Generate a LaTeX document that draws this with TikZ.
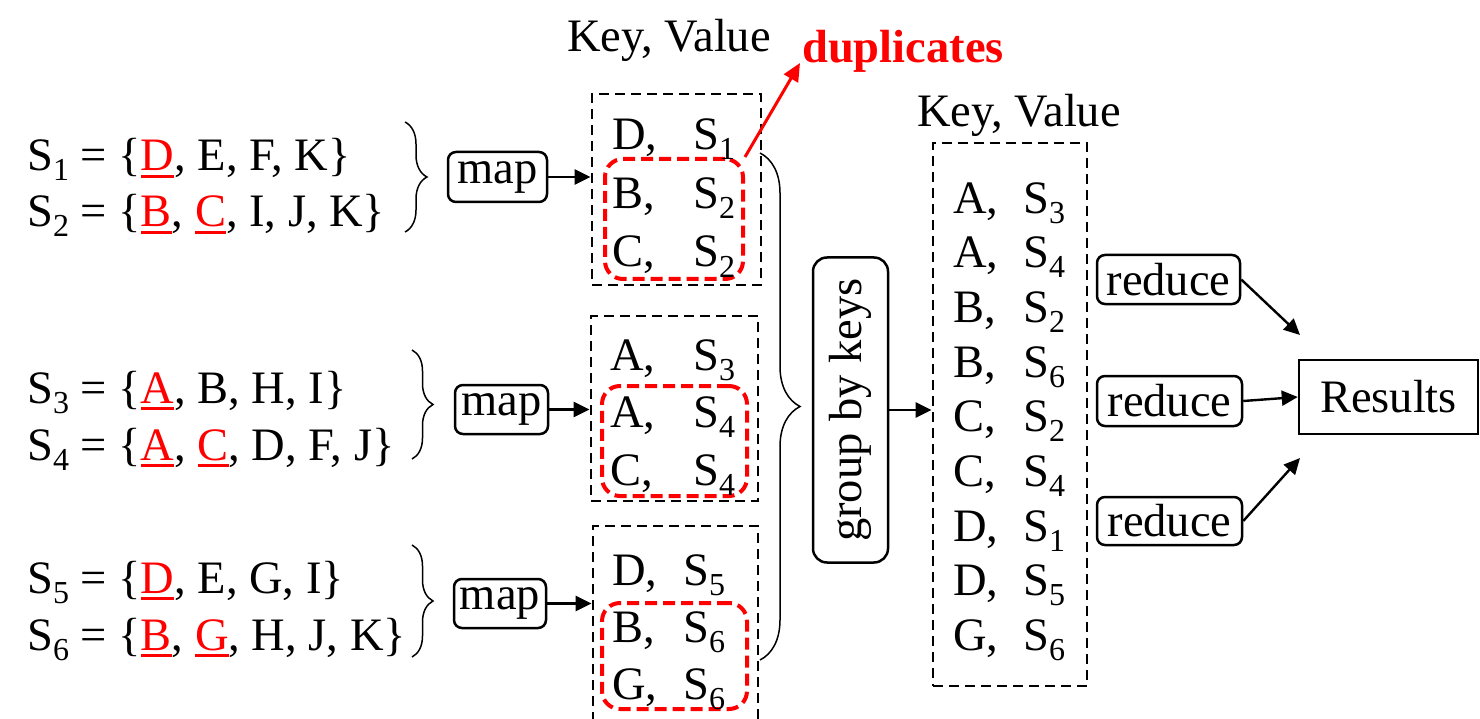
\documentclass[tikz,border=0pt]{standalone}
\usepackage{fontspec}
\setmainfont{Liberation Serif}
\usetikzlibrary{arrows.meta,decorations.pathreplacing}

\newcommand{\sub}[1]{\raisebox{-10pt}{\fontsize{32}{32}\selectfont #1}}
\newsavebox{\dupbox}
\newcommand{\dup}[1]{\sbox{\dupbox}{\color{red}#1}\textcolor{red}{\rlap{\rule[-7pt]{\wd\dupbox}{3pt}}}\usebox{\dupbox}}

\begin{document}
\begin{tikzpicture}
  [x=1pt, y=-1pt,
    every node/.style={font=\fontsize{46.5}{50}\selectfont},
    txt/.style={anchor=base west, inner sep=0pt},
    kvbox/.style={draw, dash pattern=on 10pt off 6pt, line width=2.8pt},
    redbox/.style={draw=red, dash pattern=on 12pt off 6pt, line width=4pt, rounded corners=18pt},
    opbox/.style={draw, line width=2.5pt, rounded corners=8pt, inner sep=0pt},
    arr/.style={line width=2.4pt, -{Triangle[length=16pt,width=15pt]}},
    curly/.style={decorate, decoration={brace, amplitude=#1}, line width=1.5pt}]
  \clip (0,0) rectangle (1480,719);

  % input sets
  \node[txt] (s1) at (27,171) {S\sub{1} = \{\dup{D}, E, F, K\}};
  \node[txt] (s2) at (27,227) {S\sub{2} = \{\dup{B}, \dup{C}, I, J, K\}};
  \node[txt] (s3) at (27,403) {S\sub{3} = \{\dup{A}, B, H, I\}};
  \node[txt] (s4) at (27,460) {S\sub{4} = \{\dup{A}, \dup{C}, D, F, J\}};
  \node[txt] (s5) at (27,593) {S\sub{5} = \{\dup{D}, E, G, I\}};
  \node[txt] (s6) at (27,650) {S\sub{6} = \{\dup{B}, \dup{G}, H, J, K\}};
  \draw[curly=22pt] (405,122) -- (405,232);
  \draw[curly=21pt] (412,350) -- (412,459);
  \draw[curly=21pt] (412,545) -- (412,657);

  % map step
  \node[opbox, minimum width=99pt, minimum height=50pt] (map1) at (497.5,177) {map};
  \node[opbox, minimum width=93pt, minimum height=49pt] (map2) at (501.5,409.5) {map};
  \node[opbox, minimum width=92pt, minimum height=49pt] (map3) at (500,603.5) {map};

  \node[txt] (kv1) at (567,52) {Key, Value};
  \node[kvbox, minimum width=169pt, minimum height=191pt] (b1) at (676.5,189.5) {};
  \node[kvbox, minimum width=167pt, minimum height=185pt] (b2) at (674.5,408.5) {};
  \node[kvbox, minimum width=165pt, minimum height=204pt] (b3) at (675.5,628) {};
  \node[redbox, minimum width=138pt, minimum height=120pt] (d1) at (674,219) {};
  \node[redbox, minimum width=145pt, minimum height=110pt] (d2) at (674.5,441) {};
  \node[redbox, minimum width=145pt, minimum height=106pt] (d3) at (674.5,656) {};

  \foreach \k/\v [count=\i] in {D/1, B/2, C/2} {
    \node[txt] (k1\i) at (612,{91.5+58.5*\i}) {\k,};
    \node[txt] (v1\i) at (693,{91.5+58.5*\i}) {S\sub{\v}};
  }
  \foreach \k/\v [count=\i] in {A/3, A/4, C/4} {
    \node[txt] (k2\i) at (610,{312.5+57.5*\i}) {\k,};
    \node[txt] (v2\i) at (693,{312.5+57.5*\i}) {S\sub{\v}};
  }
  \foreach \k/\v [count=\i] in {D/5, B/6, G/6} {
    \node[txt] (k3\i) at (612,{528+57*\i}) {\k,};
    \node[txt] (v3\i) at (683,{528+57*\i}) {S\sub{\v}};
  }

  \draw[arr] (map1.east) -- (map1.east -| b1.west);
  \draw[arr] (map2.east) -- (map2.east -| b2.west);
  \draw[arr] (map3.east) -- (map3.east -| b3.west);

  \node[txt, font=\fontsize{46.5}{50}\selectfont\bfseries, text=red] (dup) at (802,63) {duplicates};
  \draw[red, line width=3pt, -{Triangle[length=18pt,width=16pt]}] (d1.north east) -- ([xshift=-2pt]dup.base west);

  % shuffle
  \draw[curly=40pt] (760,153) -- (760,660);
  \node[opbox, rounded corners=14pt, rotate=90, minimum width=305pt, minimum height=75pt] (grp) at (850.5,410) {group by keys};

  \node[txt] (kv2) at (917,127) {Key, Value};
  \node[kvbox, minimum width=154pt, minimum height=543pt] (b4) at (1010,414.5) {};
  \foreach \k/\v [count=\i] in {A/3, A/4, B/2, B/6, C/2, C/4, D/1, D/5, G/6} {
    \node[txt] (k4\i) at (953,{158.8+54.6*\i}) {\k,};
    \node[txt] (v4\i) at (1023,{158.8+54.6*\i}) {S\sub{\v}};
  }
  \draw[arr] (grp.south) -- (grp.south -| b4.west);

  % reduce step
  \node[opbox, minimum width=143pt, minimum height=49pt] (rd1) at (1168.5,279.5) {reduce};
  \node[opbox, minimum width=145pt, minimum height=50pt] (rd2) at (1169.5,401) {reduce};
  \node[opbox, minimum width=145pt, minimum height=48pt] (rd3) at (1169.5,521) {reduce};
  \node[draw, line width=2.5pt, minimum width=179pt, minimum height=74pt] (res) at (1388.5,397) {Results};
  \coordinate (in1) at (1300,335);
  \coordinate (in3) at (1300,458);
  \draw[arr] (rd1.east) -- (in1);
  \draw[arr] (rd2.east) -- (res.west);
  \draw[arr] (rd3.east) -- (in3);
\end{tikzpicture}
\end{document}
